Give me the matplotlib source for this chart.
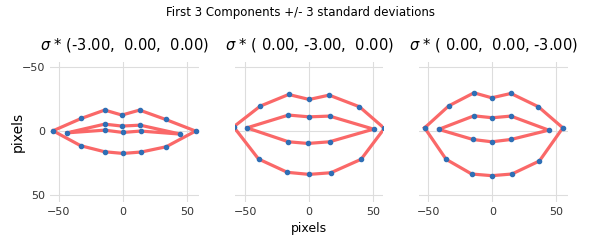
import numpy as np
import matplotlib
matplotlib.use("Agg")
import matplotlib.pyplot as plt

# mouth landmarks 48-67: outer 0-11 (left corner, upper, right corner, lower back), inner 12-19
titles = [r"$\sigma$ * (-3.00,  0.00,  0.00)",
          r"$\sigma$ * ( 0.00, -3.00,  0.00)",
          r"$\sigma$ * ( 0.00,  0.00, -3.00)"]

x1 = [-54.7, -32.5, -14.3, -0.8, 13.0, 33.3, 56.8, 33.8, 14.3, 0.0, -14.3, -33.0,
      -43.7, -14.3, -0.8, 13.5, 45.0, 13.8, 0.0, -14.3]
y1 = [0.0, -9.7, -16.2, -12.3, -16.2, -8.9, 0.2, 12.5, 16.6, 17.7, 16.4, 11.7,
      1.6, -5.2, -3.7, -4.4, 2.6, 0.2, 1.3, -0.5]

x2 = [-59.1, -38.3, -16.1, 0.0, 15.6, 39.3, 58.8, 40.6, 17.0, 0.0, -17.0, -39.6,
      -48.7, -16.2, 0.0, 15.9, 50.3, 15.9, -1.0, -16.2]
y2 = [-3.1, -19.3, -28.4, -24.5, -27.9, -18.8, -1.9, 22.3, 32.8, 34.1, 32.5, 22.1,
      -2.3, -12.3, -10.9, -11.5, -1.3, 8.6, 9.9, 8.6]

x3 = [-53.0, -34.1, -14.4, -0.5, 14.5, 36.0, 55.1, 36.8, 15.3, -0.5, -16.2, -36.2,
      -42.0, -14.4, 0.0, 14.5, 44.1, 14.5, -0.5, -15.2]
y3 = [-2.3, -19.5, -29.7, -25.8, -29.2, -18.8, -2.3, 23.6, 33.8, 35.1, 33.8, 22.3,
      -1.1, -11.7, -10.2, -11.5, -0.5, 6.8, 8.6, 6.8]

shapes = [(x1, y1), (x2, y2), (x3, y3)]

fig, axes = plt.subplots(1, 3, figsize=(6, 2.5), dpi=100, sharey=True)
fig.subplots_adjust(left=0.083, right=0.947, bottom=0.193, top=0.753, wspace=0.24)
fig.suptitle("First 3 Components +/- 3 standard deviations", fontsize=8.5, y=0.975)

for ax, (xs, ys), t in zip(axes, shapes, titles):
    xs = np.array(xs)
    ys = np.array(ys)
    outer = list(range(12)) + [0]
    inner = list(range(12, 20)) + [12]
    ax.plot(xs[outer], ys[outer], color="#fa6868", lw=2.3, zorder=2)
    ax.plot(xs[inner], ys[inner], color="#fa6868", lw=2.3, zorder=2)
    ax.scatter(xs, ys, s=9, color="#2f6fb5", zorder=3)
    ax.set_title(t, fontsize=10.5, pad=8.5)
    ax.set_ylim(55.5, -54)
    ax.set_aspect("equal", adjustable="datalim")
    ax.set_xticks([-50, 0, 50])
    ax.set_yticks([-50, 0, 50])
    ax.grid(True, color="#dddddd", lw=0.8)
    ax.set_axisbelow(True)
    for s in ax.spines.values():
        s.set_visible(False)
    ax.tick_params(length=0, labelsize=8, colors="#333333")

axes[0].set_ylabel("pixels", fontsize=10, labelpad=-2)
axes[1].set_xlabel("pixels", fontsize=9)

fig.savefig("out.png", dpi=100)
